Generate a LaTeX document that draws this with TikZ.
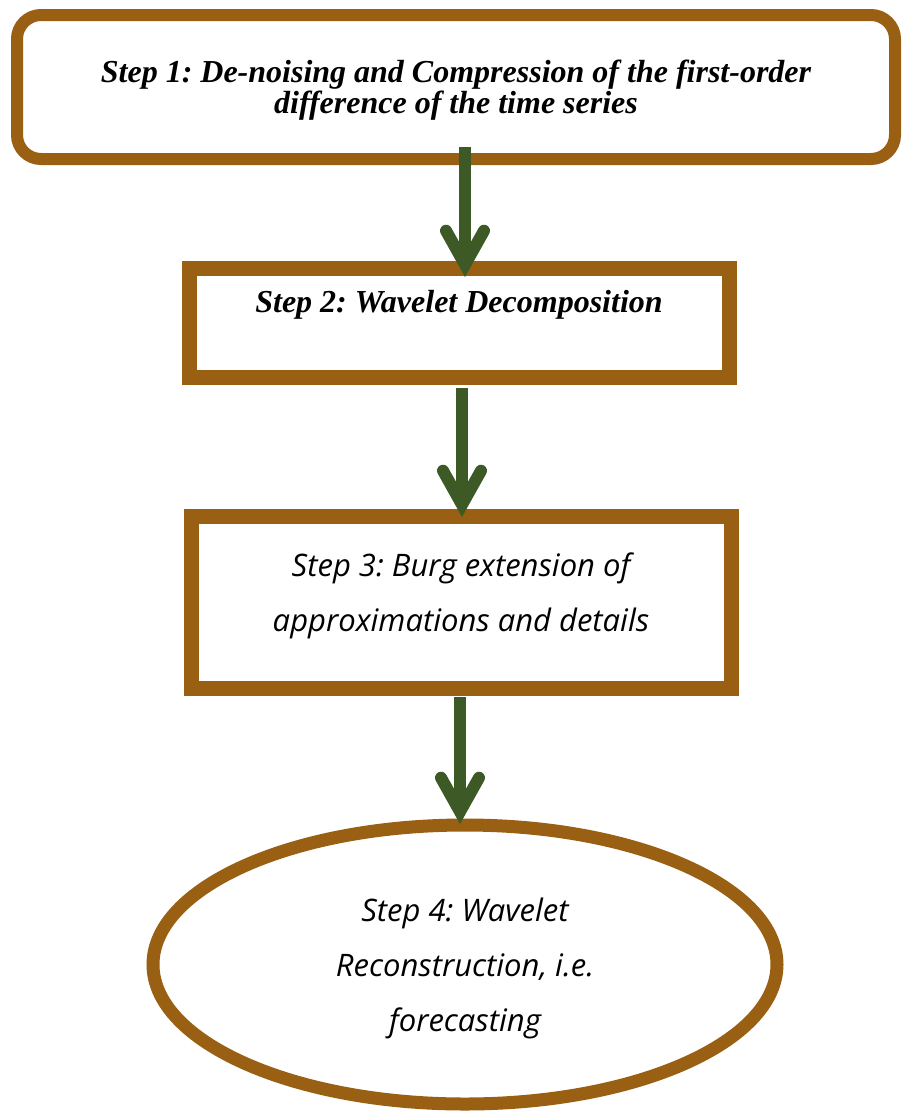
\documentclass[tikz,border=0pt]{standalone}
\usepackage{fontspec}
\setmainfont{Liberation Serif}
\newfontfamily\stepsans{Open Sans}
\usepackage{tikz}
\usetikzlibrary{arrows.meta,shapes.geometric,positioning}
\definecolor{boxbrown}{RGB}{153,96,20}
\definecolor{arrgreen}{RGB}{61,89,37}
\frenchspacing

\begin{document}
\begin{tikzpicture}[
            x=1pt, y=1pt,
            serifstep/.style={
                    font=\fontsize{16}{15.5}\selectfont\bfseries\itshape,
                    align=center
                },
            sansstep/.style={
                    font=\fontsize{15.5}{27.5}\selectfont\stepsans\itshape,
                    align=center
                },
            stepbox/.style={
                    draw=boxbrown, line width=7.5pt, fill=white,
                    inner sep=0pt, outer sep=0pt
                },
            arr/.style={
                    arrgreen, line width=6pt,
                    -{Straight Barb[length=17pt, width=19pt, line cap=round, line join=miter]}
                },
            ]
            \useasboundingbox (0,0) rectangle (450.5,-557);

            \node[stepbox, serifstep, rounded corners=12pt, line width=6pt,
                minimum width=439pt, minimum height=72pt, text depth=-4.5pt] (step1) at (228,-43.5)
                {Step 1: De-noising and Compression of the first-order\\difference of the time series};

            % step 2 text sits high in its box
            \node[stepbox, serifstep, minimum width=270pt, minimum height=54.5pt,
                text height=11pt, text depth=21pt] (step2) at (229.5,-161.25)
                {Step 2: Wavelet Decomposition};

            \node[stepbox, sansstep, minimum width=270pt, minimum height=86pt,
                text depth=9.5pt] (step3) at (230.5,-301)
                {Step 3: Burg extension of\\approximations and details};

            \node[stepbox, sansstep, ellipse, line width=6.5pt, text depth=-2pt,
                minimum width=312pt, minimum height=139.5pt] (step4) at (232.5,-482.25)
                {Step 4: Wavelet\\Reconstruction, i.e.\\forecasting};

            \draw[arr, shorten <=-6pt, shorten >=-4.5pt]
                ([xshift=4.5pt]step1.south) -- ([xshift=3pt]step2.north);
            \draw[arr, shorten <=5.5pt, shorten >=-0.5pt]
                ([xshift=1.5pt]step2.south) -- ([xshift=0.5pt]step3.north);
            \draw[arr, shorten <=4.5pt, shorten >=0.5pt]
                ([xshift=-0.5pt]step3.south) -- ([xshift=-2.5pt]step4.north);
        \end{tikzpicture}
\end{document}
